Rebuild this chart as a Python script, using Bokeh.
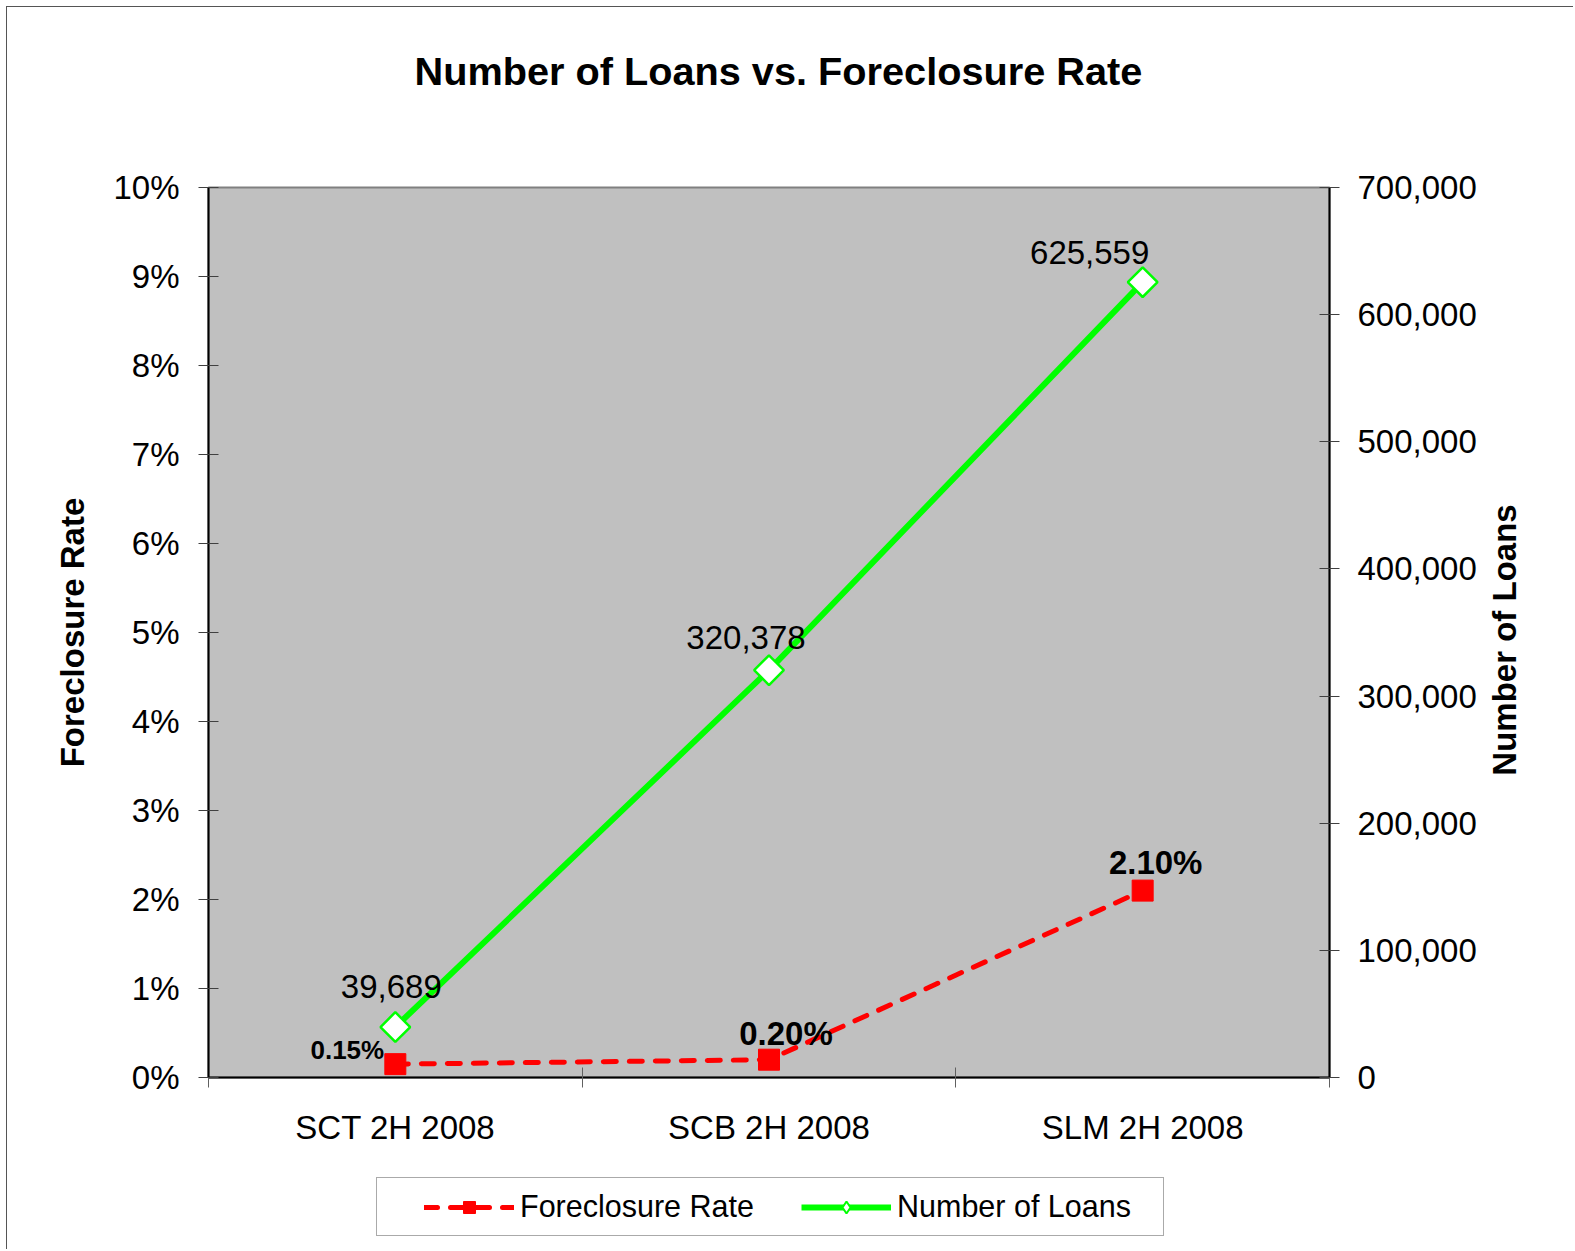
from math import pi
from bokeh.plotting import figure
from bokeh.layouts import column, row
from bokeh.models import (Range1d, LinearAxis, FixedTicker, PrintfTickFormatter,
                          NumeralTickFormatter, ColumnDataSource, Legend, LegendItem,
                          CustomJSTickFormatter, Label)
from bokeh.core.properties import value
from bokeh.embed import file_html
from bokeh.resources import INLINE

# ---------------- data ----------------
categories = ["SCT 2H 2008", "SCB 2H 2008", "SLM 2H 2008"]
foreclosure_rate = [0.15, 0.20, 2.10]          # percent
number_of_loans = [39689, 320378, 625559]
rate_ticks = [0, 1, 2, 3, 4, 5, 6, 7, 8, 9, 10]
loan_ticks = [0, 100000, 200000, 300000, 400000, 500000, 600000, 700000]

# ---------------- label styling (not data) ----------------
rate_label_sizes = ["26px", "33px", "33px"]
rate_label_dx = [-48, 17, 13]
rate_label_dy = [-14, -26, -28]
loan_label_dx = [-4, -23, -53]
loan_label_dy = [-41, -33, -30]

FONT = "Liberation Sans"
RED = "#FF0000"
GREEN = "#00FF00"

TOTAL_W = 1567
TOP_H, MID_H, LEG_H = 140, 1013, 90
RIGHT_W = 89
MAIN_W = TOTAL_W - RIGHT_W

xs = [i + 0.5 for i in range(len(categories))]

# ---------------- title strip ----------------
pt = figure(width=TOTAL_W, height=TOP_H, output_backend="svg", toolbar_location=None,
            x_axis_type=None, y_axis_type=None, min_border=0,
            title="Number of Loans vs. Foreclosure Rate")
pt.outline_line_color = None
pt.title.text_font = FONT
pt.title.text_font_size = "39.7px"
pt.title.text_font_style = "bold"
pt.title.text_color = "black"
pt.title.align = "left"
pt.title.offset = 407
pt.title.standoff = 78

# ---------------- main chart ----------------
p = figure(width=MAIN_W, height=MID_H, output_backend="svg", toolbar_location=None,
           x_range=Range1d(0, len(categories)), y_range=Range1d(rate_ticks[0], rate_ticks[-1]),
           min_border_left=201, min_border_right=156, min_border_top=40, min_border_bottom=83)
p.extra_y_ranges = {"loans": Range1d(loan_ticks[0], loan_ticks[-1])}

p.background_fill_color = "#C0C0C0"
p.border_fill_color = "white"
p.outline_line_color = "#808080"
p.outline_line_width = 2
p.xgrid.visible = False
p.ygrid.visible = False

# x axis
xa = p.xaxis[0]
xa.ticker = FixedTicker(ticks=xs, minor_ticks=list(range(len(categories) + 1)))
xa.formatter = CustomJSTickFormatter(args=dict(labels=categories),
                                     code="return labels[Math.floor(tick)];")
xa.major_tick_in = 0
xa.major_tick_out = 0
xa.minor_tick_in = 10
xa.minor_tick_out = 10
xa.minor_tick_line_color = "#606060"
xa.axis_line_color = "black"
xa.axis_line_width = 2
xa.major_label_text_font = FONT
xa.major_label_text_font_size = "33px"
xa.major_label_text_color = "black"
xa.major_label_standoff = 21

# left axis
ya = p.yaxis[0]
ya.ticker = FixedTicker(ticks=rate_ticks, minor_ticks=[])
ya.formatter = PrintfTickFormatter(format="%d%%")
ya.major_tick_in = 10
ya.major_tick_out = 10
ya.major_tick_line_color = "#404040"
ya.axis_line_color = "black"
ya.axis_line_width = 2
ya.major_label_text_font = FONT
ya.major_label_text_font_size = "33px"
ya.major_label_text_color = "black"
ya.major_label_standoff = 19
ya.axis_label = "Foreclosure Rate"
ya.axis_label_text_font = FONT
ya.axis_label_text_font_size = "33px"
ya.axis_label_text_font_style = "bold"
ya.axis_label_text_color = "black"
ya.axis_label_standoff = 19

# right axis
ra = LinearAxis(y_range_name="loans")
ra.ticker = FixedTicker(ticks=loan_ticks, minor_ticks=[])
ra.formatter = NumeralTickFormatter(format="0,0")
ra.major_tick_in = 10
ra.major_tick_out = 10
ra.major_tick_line_color = "#404040"
ra.axis_line_color = "black"
ra.axis_line_width = 2
ra.major_label_text_font = FONT
ra.major_label_text_font_size = "33px"
ra.major_label_text_color = "black"
ra.major_label_standoff = 18
p.add_layout(ra, "right")

# ---------------- series ----------------
rate_src = ColumnDataSource(dict(
    x=xs, y=foreclosure_rate,
    label=[f"{v:.2f}%" for v in foreclosure_rate],
    size=rate_label_sizes, dx=rate_label_dx, dy=rate_label_dy))
loan_src = ColumnDataSource(dict(
    x=xs, y=number_of_loans,
    label=[f"{v:,}" for v in number_of_loans],
    dx=loan_label_dx, dy=loan_label_dy))

green_line_kw = dict(line_color=GREEN, line_width=6)
green_pt_kw = dict(marker="square", angle=pi / 4, size=21, fill_color="white",
                   line_color=GREEN, line_width=2.5)
red_line_kw = dict(line_color=RED, line_width=5, line_dash="13 13", line_cap="round")
red_pt_kw = dict(marker="square", size=21, fill_color=RED, line_color=RED)

p.line("x", "y", source=loan_src, y_range_name="loans", **green_line_kw)
p.scatter("x", "y", source=loan_src, y_range_name="loans", **green_pt_kw)
p.line("x", "y", source=rate_src, **red_line_kw)
p.scatter("x", "y", source=rate_src, **red_pt_kw)

p.text("x", "y", text="label", source=loan_src, y_range_name="loans",
       text_font=value(FONT), text_font_size="33px", text_color="black",
       text_align="center", text_baseline="middle", x_offset="dx", y_offset="dy")
p.text("x", "y", text="label", source=rate_src,
       text_font=value(FONT), text_font_size="size", text_font_style="bold",
       text_color="black", text_align="center", text_baseline="middle",
       x_offset="dx", y_offset="dy")

# ---------------- right axis title strip ----------------
pr = figure(width=RIGHT_W, height=MID_H, output_backend="svg", toolbar_location=None,
            x_axis_type=None, y_axis_type=None, min_border=0,
            x_range=Range1d(0, RIGHT_W), y_range=Range1d(0, MID_H))
pr.outline_line_color = None
pr.add_layout(Label(x=19, y=498, text="Number of Loans", angle=pi / 2,
                    text_align="center", text_baseline="middle",
                    text_font=FONT, text_font_size="33px", text_font_style="bold",
                    text_color="black"))

# ---------------- legend strip ----------------
pl = figure(width=TOTAL_W, height=LEG_H, output_backend="svg", toolbar_location=None,
            x_axis_type=None, y_axis_type=None, min_border=0,
            x_range=Range1d(100, 101), y_range=Range1d(100, 101))
pl.outline_line_color = None
lg_r_line = pl.line("x", "y", source=rate_src, **red_line_kw)
lg_r_pt = pl.scatter("x", "y", source=rate_src, **red_pt_kw)
lg_g_line = pl.line("x", "y", source=loan_src, **green_line_kw)
lg_g_pt = pl.scatter("x", "y", source=loan_src, marker="diamond", size=21,
                     fill_color="white", line_color=GREEN, line_width=2)

legend = Legend(items=[
    LegendItem(label="Foreclosure Rate", renderers=[lg_r_line, lg_r_pt]),
    LegendItem(label="Number of Loans", renderers=[lg_g_line, lg_g_pt]),
], location=(369, 14), orientation="horizontal")
legend.title = " "
legend.title_location = "left"
legend.title_text_font_size = "2px"
legend.title_standoff = 34
legend.label_text_font = FONT
legend.label_text_font_size = "30.5px"
legend.label_text_color = "black"
legend.label_width = 255
legend.glyph_width = 90
legend.glyph_height = 30
legend.label_standoff = 6
legend.spacing = 26
legend.padding = 11
legend.margin = 0
legend.border_line_color = "#555555"
legend.border_line_width = 1.5
legend.background_fill_color = "white"
legend.background_fill_alpha = 1
pl.add_layout(legend, "center")

layout = column(pt, row(p, pr), pl,
                styles={"margin-left": "7px", "margin-top": "7px",
                        "box-shadow": "-1px -1px 0 0 #555555"})

open("out.html", "w").write(file_html(layout, INLINE))
